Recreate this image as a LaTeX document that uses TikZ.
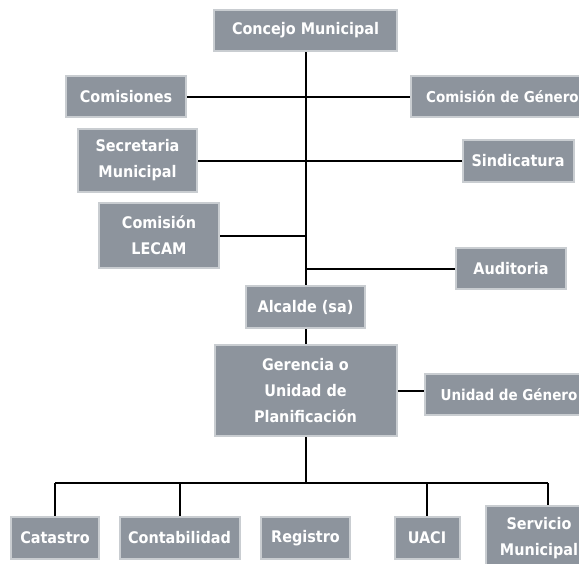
\documentclass[tikz,border=0pt]{standalone}
\usepackage{fontspec}
\setsansfont{DejaVu Sans Condensed}
\usetikzlibrary{calc}

\definecolor{boxfill}{HTML}{8D949D}
\definecolor{boxrim}{HTML}{C9CDD1}

\tikzset{
  orgbox/.style={draw=boxrim, line width=2pt, fill=boxfill, text=white,
    inner sep=0pt, align=center,
    font=\sffamily\bfseries\fontsize{16}{26}\selectfont},
  edgebox/.style={orgbox, anchor=west, inner xsep=6pt, minimum height=41pt,
    font=\sffamily\bfseries\fontsize{15}{26}\selectfont},
  link/.style={line width=2pt, black}
}

\begin{document}
\begin{tikzpicture}[x=1pt,y=-1pt]

  \useasboundingbox (0,0) rectangle (579,563);
  \clip (0,0) rectangle (579,563);

  % --- Upper level ---
  \node[orgbox, minimum width=183pt, minimum height=41pt] (concejo) at (305.5,30.5) {Concejo Municipal};
  \node[orgbox, minimum width=120pt, minimum height=41pt] (comisiones) at (126,96.5) {Comisiones};
  \node[edgebox, minimum width=183pt] (cgenero) at (410,96.5) {Comisión de Género};
  \node[orgbox, minimum width=119pt, minimum height=63pt] (secretaria) at (137.5,160.5) {Secretaria\\Municipal};
  \node[orgbox, minimum width=111pt, minimum height=42pt] (sindicatura) at (518,160.5) {Sindicatura};
  \node[orgbox, minimum width=120pt, minimum height=65pt] (lecam) at (159,235.5) {Comisión\\LECAM};
  \node[orgbox, minimum width=110pt, minimum height=41pt] (auditoria) at (511,268.5) {Auditoria};

  % --- Alcaldia and planning ---
  \node[orgbox, minimum width=119pt, minimum height=42pt] (alcalde) at (305.5,307) {Alcalde (sa)};
  \node[orgbox, minimum width=182pt, minimum height=91pt] (gerencia) at (305.5,390.5) {Gerencia o\\Unidad de\\Planificación};
  \node[edgebox, minimum width=168pt] (ugenero) at (424,394.5) {Unidad de Género};

  % --- Lower units ---
  \node[orgbox, minimum width=88pt, minimum height=42pt] (catastro) at (55,538) {Catastro};
  \node[orgbox, minimum width=120pt, minimum height=42pt] (contabilidad) at (179.5,538) {Contabilidad};
  \node[orgbox, minimum width=89pt, minimum height=42pt] (registro) at (305.5,538) {Registro};
  \node[orgbox, minimum width=65pt, minimum height=42pt] (uaci) at (427,538) {UACI};
  \node[orgbox, minimum width=107pt, minimum height=65pt] (servicio) at (539,538.5) {Servicio\\Municipal};

  % --- Main trunk ---
  \draw[link] (concejo.south) -- (alcalde.north);
  \draw[link] (alcalde.south) -- (gerencia.north);

  % --- Side branches ---
  \draw[link] (comisiones.east) -- (comisiones.east -| cgenero.west);
  \draw[link] (secretaria.east) -- (secretaria.east -| sindicatura.west);
  \draw[link] (lecam.east) -- (lecam.east -| concejo.south);
  \draw[link] (auditoria.west) -- (auditoria.west -| concejo.south);
  \draw[link] (gerencia.east) -- (gerencia.east -| ugenero.west);

  % --- Bar over the units ---
  \coordinate (barL) at (55,483);
  \coordinate (barR) at (548,483);
  \draw[link] (gerencia.south) -- (gerencia.south |- barL);
  \draw[link] (barL) -- (barR);
  \draw[link] (barL) -- (catastro.north);
  \draw[link] (contabilidad.north |- barL) -- (contabilidad.north);
  \draw[link] (uaci.north |- barL) -- (uaci.north);
  \draw[link] (barR) -- (barR |- servicio.north);

\end{tikzpicture}
\end{document}
